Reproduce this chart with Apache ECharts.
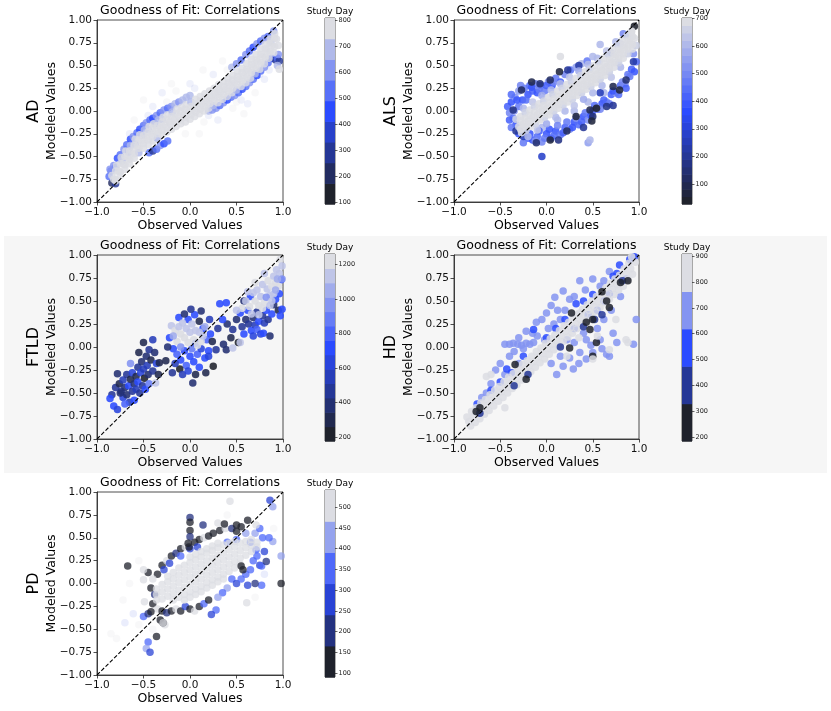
<!DOCTYPE html>
<html><head><meta charset="utf-8">
<script src="https://cdn.jsdelivr.net/npm/echarts@6/dist/echarts.min.js"></script>
<style>
html,body{margin:0;padding:0;background:#fff;}
#wrap{position:relative;width:831px;height:711px;}
#band{position:absolute;left:4px;top:236px;width:823px;height:237px;background:#f6f6f6;}
#c{position:absolute;left:0;top:0;width:831px;height:711px;}
</style></head>
<body><div id="wrap"><div id="band"></div><div id="c"></div></div>
<script>
// ---------------- DATA ----------------
const panelNames = ['AD','ALS','FTLD','HD','PD'];
const titleText = 'Goodness of Fit: Correlations';
const xLabel = 'Observed Values';
const yLabel = 'Modeled Values';
const cbLabel = 'Study Day';
const diagLine = [[-1,-1],[1,1]];

// colorbar limits, number of discrete levels, tick labels
const adRange = [92,809],  adBins = 9,  adTicks = [100,200,300,400,500,600,700,800];
const alsRange = [27,702], alsBins = 25, alsTicks = [100,200,300,400,500,600,700];
const ftldRange = [177,1262], ftldBins = 13, ftldTicks = [200,400,600,800,1000,1200];
const hdRange = [184,909], hdBins = 5, hdTicks = [200,300,400,500,600,700,800,900];
const pdRange = [91,541], pdBins = 6, pdTicks = [100,150,200,250,300,350,400,450,500];

// points: [observed, modeled, study day]
const adFaint = [[0.46,0.03,760],[0.58,-0.03,760],[0.62,0.08,690],[0.14,0.45,760],[0.25,0.40,690],[-0.50,0.12,760],[-0.30,0.20,690],[-0.60,-0.10,760],[0.10,-0.25,760],[0.30,-0.10,690],[-0.20,0.30,760],[0.70,0.20,760],[0.00,0.30,690],[-0.65,-0.25,690],[0.35,0.55,760],[0.80,0.35,690],[0.20,-0.05,690],[-0.05,-0.25,760],[0.55,0.12,690],[-0.40,0.05,690],[-0.15,0.22,760],[0.05,0.25,690],[0.40,0.45,760],[0.65,0.60,690],[-0.70,-0.40,760],[-0.45,-0.05,690],[0.15,-0.12,760],[0.75,0.40,690],[0.50,0.10,760],[-0.25,0.10,760],[0.60,0.55,760],[0.85,0.45,690]];
const adPoints = [
[-0.85,-0.66,540],[-0.82,-0.60,610],[-0.78,-0.52,470],[-0.75,-0.48,540],[-0.71,-0.42,610],[-0.68,-0.37,540],[-0.64,-0.31,450],[-0.61,-0.28,610],[-0.57,-0.24,540],[-0.54,-0.20,470],[-0.50,-0.16,540],[-0.47,-0.13,610],[-0.43,-0.10,540],[-0.40,-0.08,450],[-0.36,-0.05,610],[-0.32,-0.02,540],[-0.28,0.01,610],[-0.24,0.03,540],[-0.20,0.05,610],[-0.16,0.08,690],[-0.12,0.10,610],[-0.08,0.12,690],[-0.04,0.15,690],[0.00,0.17,690],
[-0.80,-0.62,540],[-0.73,-0.55,610],[-0.66,-0.45,540],[-0.59,-0.36,610],[-0.52,-0.27,540],[-0.45,-0.20,610],[-0.38,-0.14,540],[-0.30,-0.09,610],
[-0.44,-0.46,540],[-0.40,-0.44,330],[-0.36,-0.42,540],[-0.32,-0.38,610],[-0.28,-0.36,450],[-0.24,-0.33,540],[-0.84,-0.79,250],[-0.80,-0.80,330],[-0.87,-0.72,540],[-0.86,-0.64,610],
[0.28,0.03,610],[0.32,0.06,540],[0.36,0.09,610],[0.40,0.12,470],[0.44,0.15,540],[0.48,0.17,610],[0.52,0.20,540],[0.56,0.24,470],[0.60,0.27,540],[0.64,0.31,610],[0.68,0.35,540],[0.72,0.39,450],[0.76,0.44,540],[0.80,0.48,610],[0.84,0.53,540],[0.88,0.58,470],[0.20,0.00,690],[0.24,0.01,610],
[0.55,0.56,540],[0.60,0.62,610],[0.64,0.66,540],[0.68,0.70,470],[0.72,0.74,610],[0.76,0.77,540],[0.80,0.80,610],[0.84,0.82,540],[0.87,0.76,690],[0.90,0.88,610],[0.45,0.48,690],[0.50,0.52,610],
[0.92,0.56,300],[0.94,0.58,540],[0.96,0.55,330],[0.95,0.62,610],[0.94,0.50,690],[0.96,0.46,760],
[-0.82,-0.75,790],[-0.77,-0.66,760],[-0.72,-0.58,780],[-0.67,-0.51,750],[-0.62,-0.45,790],[-0.57,-0.39,770],[-0.52,-0.33,800],[-0.47,-0.29,760],[-0.42,-0.25,780],[-0.37,-0.22,750],[-0.32,-0.18,790],[-0.27,-0.15,770],[-0.22,-0.12,800],[-0.17,-0.09,760],[-0.12,-0.06,780],[-0.07,-0.04,750],[-0.02,-0.01,790],[0.03,0.02,770],[0.08,0.05,800],[0.13,0.08,760],[0.18,0.11,780],[0.23,0.14,750],[0.28,0.17,790],[0.33,0.21,770],[0.38,0.24,800],[0.43,0.28,760],[0.48,0.31,780],[0.53,0.35,750],[0.58,0.39,790],[0.63,0.44,770],[0.68,0.49,800],[0.73,0.54,760],[0.78,0.60,780],[0.83,0.66,750],[0.88,0.72,790],[0.93,0.79,770],
[-0.84,-0.71,770],[-0.79,-0.60,740],[-0.74,-0.51,790],[-0.69,-0.44,760],[-0.64,-0.38,700],[-0.59,-0.31,780],[-0.54,-0.26,750],[-0.49,-0.21,690],[-0.44,-0.17,770],[-0.39,-0.14,790],[-0.34,-0.10,700],[-0.29,-0.07,760],[-0.24,-0.04,780],[-0.19,-0.01,690],[-0.14,0.02,770],[-0.09,0.04,750],[-0.04,0.07,790],[0.01,0.10,700],[0.06,0.13,770],[0.11,0.16,780],[0.16,0.19,750],[0.21,0.22,790],[0.26,0.25,770],[0.31,0.29,800],[0.36,0.32,760],[0.41,0.36,780],[0.46,0.39,750],[0.51,0.43,790],[0.56,0.47,770],[0.61,0.52,800],[0.66,0.57,760],[0.71,0.62,780],[0.76,0.68,750],[0.81,0.73,790],[0.86,0.79,770],[0.91,0.85,800],
[-0.80,-0.77,760],[-0.75,-0.71,790],[-0.70,-0.64,770],[-0.65,-0.58,750],[-0.60,-0.52,790],[-0.55,-0.46,700],[-0.50,-0.41,780],[-0.45,-0.37,760],[-0.40,-0.33,790],[-0.35,-0.30,700],[-0.30,-0.26,770],[-0.25,-0.23,780],[-0.20,-0.20,750],[-0.15,-0.17,790],[-0.10,-0.14,770],[-0.05,-0.12,800],[0.00,-0.09,760],[0.05,-0.06,780],[0.10,-0.03,750],[0.15,0.00,790],[0.20,0.03,770],[0.25,0.06,700],[0.30,0.09,760],[0.35,0.13,780],[0.40,0.16,750],[0.45,0.20,790],[0.50,0.23,700],[0.55,0.27,780],[0.60,0.31,760],[0.65,0.36,790],[0.70,0.41,700],[0.75,0.46,770],[0.80,0.52,780],[0.85,0.58,750],[0.90,0.64,790],[0.95,0.72,770],
[-0.80,-0.66,780],[-0.75,-0.58,760],[-0.70,-0.50,780],[-0.65,-0.44,760],[-0.60,-0.38,780],[-0.55,-0.32,760],[-0.50,-0.27,780],[-0.45,-0.23,760],[-0.40,-0.19,780],[-0.35,-0.16,760],[-0.30,-0.12,780],[-0.25,-0.09,760],[-0.20,-0.06,780],[-0.15,-0.03,760],[-0.10,0.00,780],[-0.05,0.02,760],[0.01,0.05,780],[0.06,0.08,760],[0.11,0.11,780],[0.16,0.14,760],[0.21,0.17,780],[0.26,0.20,760],[0.31,0.24,780],[0.36,0.27,760],[0.41,0.31,780],[0.46,0.34,760],[0.51,0.38,780],[0.56,0.42,760],[0.61,0.46,780],[0.66,0.51,760],[0.71,0.56,780],[0.76,0.62,760],[0.81,0.68,780],[0.86,0.74,760],[0.91,0.80,780],
[-0.80,-0.75,760],[-0.75,-0.67,780],[-0.70,-0.59,760],[-0.65,-0.53,780],[-0.60,-0.47,760],[-0.55,-0.41,780],[-0.50,-0.36,760],[-0.45,-0.32,780],[-0.40,-0.28,760],[-0.35,-0.25,780],[-0.30,-0.21,760],[-0.25,-0.18,780],[-0.20,-0.15,760],[-0.15,-0.12,780],[-0.10,-0.10,760],[-0.05,-0.07,780],[0.01,-0.04,760],[0.06,-0.01,780],[0.11,0.02,760],[0.16,0.05,780],[0.21,0.08,760],[0.26,0.11,780],[0.31,0.15,760],[0.36,0.18,780],[0.41,0.22,760],[0.46,0.25,780],[0.51,0.29,760],[0.56,0.33,780],[0.61,0.37,760],[0.66,0.42,780],[0.71,0.47,760],[0.76,0.53,780],[0.81,0.59,760],[0.86,0.65,780],[0.91,0.71,760]
];

const alsPoints = [
[-0.42,0.05,420],[-0.40,-0.02,500],[-0.38,0.10,380],[-0.36,-0.08,450],[-0.34,0.15,520],[-0.33,-0.15,400],[-0.30,0.05,470],[-0.30,0.22,560],[-0.28,-0.22,430],[-0.26,0.12,400],[-0.24,0.25,480],[-0.22,-0.25,520],[-0.20,0.18,390],[-0.18,0.28,450],[-0.15,0.22,420],[-0.12,0.30,500],[-0.10,0.20,380],[-0.06,0.28,430],[-0.02,0.22,470],[0.02,0.32,520],[0.06,0.28,400],[0.10,0.36,460],[0.15,0.32,420],[0.20,0.40,500],[0.26,0.45,450],[0.32,0.48,560],[0.38,0.52,600],[0.44,0.55,480],[0.50,0.60,620],
[-0.38,0.18,450],[-0.32,0.12,400],[-0.28,0.28,500],[-0.22,0.12,450],[-0.16,0.26,400],[-0.08,0.24,470],[0.00,0.28,430],[0.08,0.32,500],[-0.40,-0.10,430],[-0.38,-0.18,470],[-0.30,-0.25,400],[-0.35,0.00,520],
[-0.20,-0.30,420],[-0.15,-0.32,380],[-0.10,-0.28,450],[-0.05,-0.34,500],[0.00,-0.25,400],[0.05,-0.30,430],[0.10,-0.22,390],[0.15,-0.26,470],[0.20,-0.18,420],[0.25,-0.20,500],[0.30,-0.12,400],[0.35,-0.15,450],[0.40,-0.06,380],[0.45,-0.10,520],[0.50,0.00,430],[0.55,0.02,470],[0.60,0.08,400],[0.65,0.10,500],[0.70,0.18,430],[0.75,0.20,560],[0.80,0.28,450],[0.85,0.30,520],[0.88,0.40,480],[0.92,0.46,420],[0.95,0.43,380],[0.97,0.54,450],[0.94,0.63,520],[0.62,0.20,600],[0.45,0.10,620],[0.30,0.00,600],[0.12,-0.10,620],[-0.05,-0.18,600],
[-0.25,-0.35,470],[-0.18,-0.25,400],[-0.12,-0.33,520],[-0.08,-0.22,430],[-0.02,-0.30,470],[0.03,-0.20,380],[0.08,-0.27,450],[0.12,-0.16,500],[0.18,-0.24,430],[0.22,-0.12,470],[0.28,-0.18,400],[0.32,-0.08,520],[0.38,-0.12,430],[0.42,-0.02,470],[0.48,-0.05,400],[0.52,0.06,450],[0.58,0.02,500],[0.62,0.12,430],[0.68,0.08,470],[0.72,0.22,400],[0.78,0.18,450],[0.82,0.32,500],[0.86,0.25,430],[0.90,0.38,470],
[-0.27,0.23,120],[-0.36,0.01,180],[-0.16,0.32,90],[-0.07,0.30,150],[0.14,0.43,60],[0.23,0.45,200],[0.04,0.34,110],[-0.11,-0.35,140],[0.04,-0.32,80],[0.13,-0.32,170],[0.22,-0.22,120],[0.32,-0.06,60],[0.47,0.01,90],[0.54,0.03,50],[0.50,-0.06,140],[0.49,-0.11,70],[0.72,0.06,200],[0.72,0.27,100],[0.79,0.23,60],[0.86,0.34,150],[0.94,0.54,240],[0.95,0.93,40],[-0.33,-0.22,200],[-0.25,-0.28,250],[0.35,0.50,230],[0.58,0.20,260],[0.65,0.05,180],[0.40,-0.18,210],
[-0.05,-0.50,280],[0.45,-0.35,560],[0.47,-0.32,600],[0.58,0.73,600],[0.83,0.85,500],[0.90,0.82,650],[0.92,0.88,690],[0.15,0.60,690],[0.70,0.64,620],[0.80,0.74,640],
[-0.25,0.03,600],[-0.15,0.10,630],[-0.05,0.17,580],[0.05,0.23,620],[0.15,0.30,600],[0.25,0.37,640],[0.35,0.44,590],[0.45,0.51,620],[0.55,0.58,600],[0.65,0.66,630],[0.75,0.76,600],
[-0.20,-0.28,600],[-0.10,-0.21,630],[0.00,-0.14,580],[0.10,-0.07,620],[0.20,0.00,600],[0.30,0.06,640],[0.40,0.13,590],[0.50,0.20,620],[0.60,0.28,600],[0.70,0.37,630],[0.80,0.48,600],
[-0.30,-0.17,690],[-0.25,-0.14,680],[-0.20,-0.11,700],[-0.15,-0.07,690],[-0.10,-0.04,680],[-0.05,0.00,700],[0.00,0.03,690],[0.05,0.06,680],[0.10,0.10,700],[0.15,0.13,690],[0.20,0.17,680],[0.25,0.20,700],[0.30,0.23,690],[0.35,0.27,680],[0.40,0.30,700],[0.45,0.34,690],[0.50,0.37,680],[0.55,0.41,700],[0.60,0.45,690],[0.65,0.49,680],[0.70,0.54,700],[0.75,0.60,690],[0.80,0.65,680],[0.85,0.70,700],[0.90,0.75,690],[0.95,0.80,680],
[-0.33,-0.09,670],[-0.28,-0.06,690],[-0.23,-0.02,660],[-0.18,0.01,690],[-0.13,0.05,670],[-0.08,0.08,700],[-0.03,0.11,660],[0.02,0.15,690],[0.07,0.18,670],[0.12,0.22,700],[0.17,0.25,660],[0.22,0.29,690],[0.27,0.32,670],[0.32,0.36,700],[0.37,0.39,660],[0.42,0.43,690],[0.47,0.46,670],[0.52,0.50,700],[0.57,0.54,660],[0.62,0.58,690],[0.67,0.62,670],[0.72,0.68,700],[0.77,0.73,660],[0.82,0.78,690],[0.87,0.83,670],[0.92,0.87,700],
[-0.27,-0.24,680],[-0.22,-0.21,660],[-0.17,-0.17,690],[-0.12,-0.14,670],[-0.07,-0.10,700],[-0.02,-0.07,660],[0.03,-0.04,690],[0.08,0.00,670],[0.13,0.03,700],[0.18,0.07,660],[0.23,0.10,690],[0.28,0.13,670],[0.33,0.17,700],[0.38,0.20,660],[0.43,0.24,690],[0.48,0.27,670],[0.53,0.31,700],[0.58,0.35,660],[0.63,0.39,690],[0.68,0.43,670],[0.73,0.48,700],[0.78,0.53,660],[0.83,0.58,690],[0.88,0.63,670],[0.93,0.68,700],[0.97,0.72,660],
[-0.28,-0.11,690],[-0.23,-0.08,700],[-0.18,-0.05,690],[-0.13,-0.01,700],[-0.08,0.03,690],[-0.03,0.06,700],[0.03,0.09,690],[0.08,0.13,700],[0.13,0.16,690],[0.18,0.20,700],[0.23,0.23,690],[0.28,0.26,700],[0.33,0.30,690],[0.38,0.33,700],[0.43,0.37,690],[0.48,0.40,700],[0.53,0.44,690],[0.58,0.48,700],[0.63,0.52,690],[0.68,0.56,700],[0.73,0.62,690],[0.78,0.67,700],[0.83,0.72,690],[0.88,0.77,700],[0.93,0.82,690],
[-0.28,-0.20,700],[-0.23,-0.17,690],[-0.18,-0.14,700],[-0.13,-0.10,690],[-0.08,-0.07,700],[-0.03,-0.03,690],[0.03,0.00,700],[0.08,0.04,690],[0.13,0.07,700],[0.18,0.11,690],[0.23,0.14,700],[0.28,0.17,690],[0.33,0.21,700],[0.38,0.24,690],[0.43,0.28,700],[0.48,0.31,690],[0.53,0.35,700],[0.58,0.39,690],[0.63,0.43,700],[0.68,0.47,690],[0.73,0.53,700],[0.78,0.58,690],[0.83,0.63,700],[0.88,0.68,690],[0.93,0.73,700]
];

const ftldPoints = [
[-0.82,-0.64,720],[-0.78,-0.68,650],[-0.80,-0.44,430],[-0.78,-0.29,380],[-0.76,-0.40,300],[-0.74,-0.48,470],[-0.72,-0.36,540],[-0.72,-0.55,600],[-0.70,-0.44,350],[-0.68,-0.30,450],[-0.68,-0.52,400],[-0.66,-0.42,720],[-0.65,-0.60,560],[-0.64,-0.35,290],[-0.62,-0.48,500],[-0.62,-0.28,640],[-0.60,-0.40,420],[-0.60,-0.58,700],[-0.58,-0.32,330],[-0.58,-0.46,550],[-0.56,-0.22,480],[-0.56,-0.38,760],[-0.55,-0.06,300],[-0.54,-0.50,440],[-0.53,-0.28,600],[-0.52,-0.16,360],[-0.51,-0.42,480],[-0.50,0.05,320],[-0.50,-0.24,520],[-0.49,-0.34,260],[-0.48,-0.46,700],[-0.47,-0.10,420],[-0.46,-0.20,580],[-0.45,-0.30,380],[-0.44,-0.03,500],[-0.44,-0.40,900],[-0.42,-0.14,300],[-0.40,0.08,560],[-0.40,-0.26,460],[-0.38,-0.06,380],[-0.37,-0.39,1100],[-0.36,-0.18,640],[-0.34,-0.30,300],[-0.75,-0.50,360],[-0.70,-0.62,820],[-0.64,-0.18,1000],[-0.84,-0.52,480],[-0.86,-0.56,740],
[-0.22,0.10,760],[-0.18,-0.02,700],[-0.14,-0.08,820],[-0.10,-0.14,720],[-0.06,-0.04,680],[-0.04,-0.20,780],[0.00,-0.10,700],[0.02,-0.02,860],[0.04,-0.16,740],[0.06,0.04,690],[0.08,-0.08,800],[0.10,-0.22,720],[0.12,-0.02,660],[0.14,0.20,760],[0.16,-0.12,700],[0.18,0.08,820],[0.20,-0.04,740],[0.22,0.14,700],[-0.02,0.30,720],[0.05,0.35,760],[-0.12,0.32,700],
[-0.20,0.23,1150],[-0.16,0.18,1220],[-0.12,0.22,1100],[-0.10,0.14,1180],[-0.08,0.26,1130],[-0.06,0.10,1230],[-0.04,0.20,1120],[-0.02,0.05,1200],[0.00,0.16,1150],[0.02,0.25,1100],[0.04,0.08,1210],[0.06,0.18,1140],[0.08,0.02,1180],[0.10,0.16,1120],[0.12,0.06,1230],[0.14,0.12,1100],[-0.14,0.06,1190],[-0.18,0.12,1060],[0.16,0.22,1050],[-0.10,0.00,1000],
[0.01,0.41,450],[0.12,0.39,420],[0.21,0.30,550],[-0.33,-0.17,300],[-0.26,-0.15,330],[-0.19,-0.28,480],[-0.11,-0.24,260],[0.03,-0.39,420],[0.17,-0.28,300],[0.25,-0.21,250],[0.28,-0.03,500],[0.39,-0.03,420],[0.36,0.03,350],[-0.08,-0.30,520],[-0.02,-0.26,600],[0.06,-0.30,280],[-0.24,0.00,380],[-0.16,-0.18,520],[0.24,0.06,330],[0.30,0.20,460],[0.20,-0.10,600],[-0.06,0.36,380],[0.10,0.28,300],
[0.32,0.47,720],[0.39,0.48,700],[0.46,0.19,500],[0.50,0.30,420],[0.54,0.37,760],[0.56,0.22,480],[0.58,0.14,700],[0.60,0.30,360],[0.62,0.40,680],[0.63,0.25,450],[0.66,0.18,720],[0.68,0.12,640],[0.68,0.32,400],[0.70,0.24,520],[0.72,0.19,780],[0.72,0.38,470],[0.74,0.28,700],[0.76,0.14,600],[0.78,0.34,440],[0.79,0.15,720],[0.80,0.26,560],[0.82,0.40,700],[0.84,0.30,480],[0.86,0.12,380],[0.88,0.36,760],[0.90,0.46,420],[0.92,0.52,700],[0.95,0.40,300],[0.97,0.34,760],[0.99,0.41,680],[0.96,0.58,740],[0.98,0.73,700],[0.40,0.25,380],[0.44,0.10,300],[0.52,0.05,250],[0.35,0.30,700],[0.58,0.50,360],[0.65,0.55,720],
[0.54,0.05,1100],[0.46,-0.01,1150],[0.60,0.50,1150],[0.64,0.44,1200],[0.68,0.59,1100],[0.70,0.50,1180],[0.72,0.62,1130],[0.74,0.45,1220],[0.76,0.55,1100],[0.78,0.68,1150],[0.80,0.48,1210],[0.83,0.63,1100],[0.84,0.72,1180],[0.86,0.56,1130],[0.88,0.66,1220],[0.90,0.77,1100],[0.90,0.58,1160],[0.92,0.70,1200],[0.93,0.84,1120],[0.95,0.66,1180],[0.96,0.80,1100],[0.97,0.95,1230],[0.99,0.88,1150],[0.99,0.74,1000],[0.94,0.74,1050],[0.82,0.54,1000],[0.66,0.36,1100],[0.74,0.35,1150],[0.78,0.42,1200],[0.86,0.45,1100],[0.88,0.50,1150],[0.92,0.62,1080],[0.62,0.60,1130],[0.70,0.70,1200],[0.80,0.80,1120],[0.56,0.42,1180],[0.50,0.40,1100]
];

const hdPoints = [
[-0.45,0.03,700],[-0.40,0.03,690],[-0.36,0.04,720],[-0.31,0.03,700],[-0.27,0.02,680],[-0.22,0.04,710],[-0.18,0.03,700],[-0.14,0.05,690],
[0.09,0.54,700],[0.18,0.61,690],[0.36,0.72,720],[0.50,0.74,700],[0.68,0.82,680],[0.00,0.37,710],[-0.11,0.27,700],[-0.22,0.17,690],[-0.05,0.30,720],[0.05,0.45,700],[0.12,0.40,680],[-0.30,0.10,710],[-0.15,0.15,700],[0.25,0.52,690],[0.30,0.55,720],[0.42,0.62,700],[0.58,0.66,680],[0.62,0.72,710],[-0.55,-0.25,700],[-0.50,-0.18,690],[-0.40,-0.10,720],[-0.35,-0.05,700],[-0.25,-0.02,680],[-0.10,0.12,710],[0.02,0.20,700],[0.15,0.30,690],[-0.60,-0.40,720],[-0.70,-0.55,700],[-0.65,-0.50,680],[-0.45,-0.30,710],[-0.30,-0.18,700],[0.20,0.40,690],[-0.02,0.08,720],[0.08,0.25,700],
[0.22,0.08,700],[0.36,-0.06,690],[0.43,-0.13,720],[0.50,-0.06,700],[0.65,-0.08,680],[0.68,-0.10,710],[0.76,0.05,700],[0.18,-0.21,690],[0.29,-0.24,720],[0.11,-0.30,700],[0.43,0.08,680],[0.58,0.08,710],[0.97,0.30,690],[0.94,0.03,700],[0.30,0.05,720],[0.40,0.15,700],[0.55,0.20,680],[0.62,0.30,710],[0.70,0.40,700],[0.80,0.55,690],[0.48,0.02,720],[0.25,-0.12,700],[0.35,-0.18,680],[0.60,-0.02,710],[0.72,0.15,700],[0.15,-0.10,690],[0.05,-0.18,720],
[0.40,0.50,560],[0.32,0.47,540],[0.50,0.57,580],[-0.43,-0.24,560],[-0.38,-0.28,540],[-0.14,0.19,580],[0.72,0.77,560],[0.86,0.74,540],[0.79,0.89,580],[-0.60,-0.47,560],[-0.50,-0.38,540],[0.20,0.30,580],[0.30,0.20,560],[0.45,0.35,540],[0.55,0.40,580],[0.62,0.50,560],[0.68,0.58,540],[-0.25,-0.10,580],[0.00,0.10,560],[0.10,0.20,540],[0.90,0.95,580],[0.95,0.98,560],[0.76,0.80,540],[-0.75,-0.62,580],
[-0.84,-0.81,850],[-0.79,-0.76,820],[-0.74,-0.72,880],[-0.69,-0.67,850],[-0.64,-0.63,820],[-0.59,-0.58,880],[-0.54,-0.53,850],[-0.49,-0.49,820],[-0.44,-0.44,880],[-0.39,-0.39,850],[-0.34,-0.35,820],[-0.29,-0.30,880],[-0.24,-0.25,850],[-0.19,-0.21,820],[-0.14,-0.16,880],[-0.09,-0.11,850],[-0.04,-0.07,820],[0.01,-0.02,880],[0.06,0.03,850],[0.11,0.07,820],[0.16,0.12,880],[0.21,0.17,850],[0.26,0.21,820],[0.31,0.26,880],[0.36,0.30,850],[0.41,0.35,820],[0.46,0.40,880],[0.51,0.44,850],[0.56,0.49,820],[0.61,0.54,880],[0.66,0.58,850],[0.71,0.63,820],[0.76,0.68,880],[0.81,0.72,850],[0.86,0.79,820],[0.91,0.85,880],[0.96,0.92,850],
[-0.86,-0.76,830],[-0.81,-0.70,860],[-0.76,-0.66,800],[-0.71,-0.61,830],[-0.66,-0.57,860],[-0.61,-0.52,800],[-0.56,-0.47,830],[-0.51,-0.43,860],[-0.46,-0.38,800],[-0.41,-0.33,830],[-0.36,-0.29,860],[-0.31,-0.24,800],[-0.26,-0.19,830],[-0.21,-0.15,860],[-0.16,-0.10,800],[-0.11,-0.05,830],[-0.06,-0.01,860],[-0.01,0.04,800],[0.04,0.09,830],[0.09,0.13,860],[0.14,0.18,800],[0.19,0.23,830],[0.24,0.27,860],[0.29,0.32,800],[0.34,0.36,830],[0.39,0.41,860],[0.44,0.46,800],[0.49,0.50,830],[0.54,0.55,860],[0.59,0.60,800],[0.64,0.64,830],[0.69,0.69,860],[0.74,0.74,800],[0.79,0.78,830],[0.84,0.85,860],[0.89,0.91,800],
[-0.82,-0.86,870],[-0.77,-0.82,840],[-0.72,-0.78,890],[-0.67,-0.73,870],[-0.62,-0.69,840],[-0.57,-0.64,890],[-0.52,-0.59,870],[-0.47,-0.55,840],[-0.42,-0.50,890],[-0.37,-0.45,870],[-0.32,-0.41,840],[-0.27,-0.36,890],[-0.22,-0.31,870],[-0.17,-0.27,840],[-0.12,-0.22,890],[-0.07,-0.17,870],[-0.02,-0.13,840],[0.03,-0.08,890],[0.08,-0.03,870],[0.13,0.01,840],[0.18,0.06,890],[0.23,0.11,870],[0.28,0.15,840],[0.33,0.20,890],[0.38,0.24,870],[0.43,0.29,840],[0.48,0.34,890],[0.53,0.38,870],[0.58,0.43,840],[0.63,0.48,890],[0.68,0.52,870],[0.73,0.57,840],[0.78,0.62,890],[0.83,0.66,870],[0.88,0.73,840],[0.93,0.79,890],
[0.40,0.22,400],[0.52,0.30,420],[-0.35,-0.42,380],[0.15,0.00,400],[-0.20,-0.30,420],[0.60,0.35,380],[-0.72,-0.72,400],[0.82,0.72,420],
[0.27,0.37,250],[0.43,0.27,230],[0.65,0.50,260],[0.68,0.43,240],[0.88,0.72,250],[0.54,0.05,230],[0.50,-0.10,260],[-0.34,-0.19,240],[-0.22,-0.35,250],[-0.72,-0.66,230],[-0.76,-0.70,260],[0.50,0.30,240],[0.25,-0.01,250],[0.47,0.19,230],[0.60,0.60,260],[0.80,0.70,240],
[-0.65,-0.32,850],[-0.45,-0.66,820],[0.86,0.08,880],[0.88,0.05,850],[0.68,-0.03,820],[0.36,0.37,880],[0.22,-0.10,850],[0.50,-0.13,820],[0.35,0.10,880],[0.55,0.12,850],[0.75,0.30,820],[0.92,0.98,880],[-0.60,-0.30,850]
];

const pdFaint = [[-0.79,-0.60,520],[-0.70,-0.43,450],[-0.72,-0.18,500],[-0.61,-0.33,430],[-0.85,-0.55,500],[-0.55,-0.45,520],[-0.65,0.00,500],[-0.55,0.25,500],[0.70,-0.15,500],[0.40,0.75,500],[0.80,0.10,450],[-0.40,-0.50,500],[0.90,0.60,480]];
const pdPoints = [
[-0.30,0.20,120],[-0.25,0.25,500],[-0.20,0.30,140],[-0.15,0.33,180],[-0.10,0.38,110],[-0.05,0.40,520],[0.05,0.45,150],[0.10,0.48,130],[0.15,0.50,500],[0.20,0.52,160],[0.25,0.55,120],[0.32,0.58,140],[0.38,0.60,500],[0.45,0.60,170],[0.55,0.62,130],[-0.35,0.10,150],[-0.40,0.05,500],[-0.42,-0.05,130],[-0.38,-0.12,200],[-0.45,0.12,110],[-0.28,0.15,300],[-0.22,0.22,260],[0.00,0.38,300],[-0.10,0.30,350],[0.08,0.40,280],
[-0.40,-0.22,140],[-0.35,-0.28,500],[-0.30,-0.30,120],[-0.25,-0.32,180],[-0.20,-0.30,110],[-0.15,-0.28,500],[-0.10,-0.30,140],[-0.05,-0.25,300],[0.00,-0.28,130],[0.05,-0.30,500],[0.10,-0.25,160],[0.15,-0.22,380],[0.20,-0.18,130],[-0.32,-0.40,150],[-0.27,-0.45,500],[-0.29,-0.43,130],
[0.45,0.05,350],[0.50,0.00,300],[0.55,0.05,380],[0.60,0.10,330],[0.62,-0.02,280],[0.65,0.15,350],[0.68,0.25,320],[0.72,0.30,360],[0.75,0.20,300],[0.77,-0.02,330],[0.77,0.19,350],[0.71,0.37,330],[0.80,0.35,300],[0.82,0.24,200],[0.89,0.46,420],[0.85,0.50,380],[0.60,0.55,400],[0.65,0.45,360],[0.70,0.55,420],[0.75,0.60,380],[0.78,0.50,330],[0.50,0.48,350],[0.40,0.45,330],[0.28,-0.29,330],[0.23,-0.34,300],[0.61,-0.21,500],[0.40,-0.05,420],[0.35,-0.10,380],[0.30,-0.15,400],
[-0.36,-0.12,510],[-0.36,-0.06,520],[-0.36,-0.18,500],[-0.30,-0.09,520],[-0.30,-0.01,510],[-0.30,-0.17,530],[-0.24,-0.06,500],[-0.24,0.02,520],[-0.24,-0.14,510],[-0.24,0.08,530],[-0.18,-0.03,520],[-0.18,0.05,500],[-0.18,-0.11,530],[-0.18,0.12,510],[-0.18,-0.18,520],[-0.12,0.01,530],[-0.12,0.09,510],[-0.12,-0.07,520],[-0.12,0.17,500],[-0.12,-0.15,530],[-0.06,0.04,510],[-0.06,0.12,520],[-0.06,-0.04,530],[-0.06,0.20,500],[-0.06,-0.12,520],[-0.06,-0.18,510],
[0.00,0.07,520],[0.00,0.15,530],[0.00,-0.01,510],[0.00,0.23,520],[0.00,-0.09,500],[0.00,0.29,530],[0.00,-0.15,510],[0.06,0.10,520],[0.06,0.18,510],[0.06,0.02,530],[0.06,0.26,520],[0.06,-0.06,500],[0.06,0.32,510],[0.06,-0.12,530],[0.12,0.13,520],[0.12,0.21,500],[0.12,0.05,530],[0.12,0.29,510],[0.12,-0.03,520],[0.12,0.35,530],[0.12,-0.09,510],
[0.18,0.17,500],[0.18,0.25,520],[0.18,0.09,530],[0.18,0.33,510],[0.18,0.01,520],[0.18,0.38,500],[0.18,-0.05,530],[0.24,0.20,510],[0.24,0.28,520],[0.24,0.12,530],[0.24,0.36,500],[0.24,0.04,520],[0.24,0.41,510],[0.24,-0.02,530],[0.30,0.23,520],[0.30,0.31,510],[0.30,0.15,530],[0.30,0.39,520],[0.30,0.07,500],[0.30,0.44,510],[0.30,0.02,530],
[0.36,0.26,520],[0.36,0.34,510],[0.36,0.18,530],[0.36,0.42,500],[0.36,0.10,520],[0.36,0.05,510],[0.42,0.29,530],[0.42,0.37,520],[0.42,0.21,510],[0.42,0.44,500],[0.42,0.13,530],[0.48,0.32,520],[0.48,0.40,510],[0.48,0.24,530],[0.48,0.46,520],[0.48,0.17,500],[0.54,0.36,510],[0.54,0.44,530],[0.54,0.28,520],[0.54,0.21,510],[0.60,0.39,520],[0.60,0.46,500],[0.60,0.31,530],[0.66,0.42,510],[0.66,0.48,520],[0.66,0.35,530],[0.72,0.45,510],[0.72,0.40,520],
[0.00,0.72,200],[0.00,0.67,120],[0.00,0.58,130],[0.00,0.51,190],[-0.02,0.44,110],[-0.01,0.40,120],[0.14,0.64,210],[0.30,0.66,500],[0.37,0.65,110],[0.50,0.64,120],[0.50,0.57,130],[0.62,0.69,110],[0.71,0.64,500],[0.43,0.90,500],[0.86,0.91,300],[0.89,0.84,420],[0.98,0.30,430],[0.98,0.00,110],[-0.67,0.19,150],[-0.50,0.15,500],[-0.50,0.04,500],[-0.49,-0.20,500],[-0.50,-0.36,330],[-0.45,-0.33,200],[-0.42,-0.31,120],[-0.29,-0.43,500],[-0.36,-0.58,140],[-0.45,-0.64,320],[-0.47,-0.71,420],[-0.43,-0.75,300],[0.55,0.19,120],[0.57,0.15,140],[0.70,0.00,190]
];

// ---------------- LAYOUT / STYLE ----------------
const layout = [
  {grid:[97,20,186,182],  cb:[325,18,10,186]},
  {grid:[454,20,185,182], cb:[682,18,10,186]},
  {grid:[97,255,186,184], cb:[325,254,10,187]},
  {grid:[454,255,185,184],cb:[682,254,10,187]},
  {grid:[97,492,186,183], cb:[325,490,10,187]}
];
const panelCfg = [
  {pts:adPoints, faint:adFaint, range:adRange, bins:adBins, ticks:adTicks, op:0.82},
  {pts:alsPoints, faint:null, range:alsRange, bins:alsBins, ticks:alsTicks, op:0.88},
  {pts:ftldPoints, faint:null, range:ftldRange, bins:ftldBins, ticks:ftldTicks, op:0.88},
  {pts:hdPoints, faint:null, range:hdRange, bins:hdBins, ticks:hdTicks, op:0.85},
  {pts:pdPoints, faint:pdFaint, range:pdRange, bins:pdBins, ticks:pdTicks, op:0.75}
];
const SYM = 7.5;
const FONT = '"DejaVu Sans", "Liberation Sans", sans-serif';
const STOPS = ['#1f222c','#2b4bff','#dcdde3'].map(h=>[1,3,5].map(k=>parseInt(h.substr(k,2),16)));
function cmap(t){
  const s = t<=0.5?0:1, f = t<=0.5? t*2 : (t-0.5)*2;
  const a = STOPS[s], b = STOPS[s+1];
  return 'rgb('+a.map((v,i)=>Math.round(v+(b[i]-v)*f)).join(',')+')';
}
function edges(r,n){const e=[];for(let j=0;j<=n;j++)e.push(r[0]+(r[1]-r[0])*j/n);return e;}
const minus = s => s.replace('-', '\u2212');
const fmt1 = v => minus((Math.abs(v)<1e-9?0:v).toFixed(1));
const fmt2 = v => minus((Math.abs(v)<1e-9?0:v).toFixed(2));

const grids=[], xAxes=[], yAxes=[], series=[], visualMaps=[], texts=[];
const tick = {show:true,length:3.5,lineStyle:{color:'#222',width:0.8}};
const spine = {show:true,onZero:false,lineStyle:{color:'#222',width:0.8}};
panelCfg.forEach((p,i)=>{
  const L = layout[i], g = L.grid, c = L.cb;
  grids.push({left:g[0],top:g[1],width:g[2],height:g[3],show:true,borderColor:'#222',borderWidth:0.8});
  grids.push({left:c[0],top:c[1],width:c[2],height:c[3],show:true,borderColor:'#333',borderWidth:0.8});
  xAxes.push({gridIndex:2*i,type:'value',min:-1,max:1,interval:0.5,position:'bottom',axisLine:spine,axisTick:tick,splitLine:{show:false},
    axisLabel:{fontSize:10.5,color:'#111',margin:5,fontFamily:FONT,formatter:fmt1,showMinLabel:true,showMaxLabel:true}});
  xAxes.push({gridIndex:2*i+1,type:'value',min:0,max:1,show:false});
  yAxes.push({gridIndex:2*i,type:'value',min:-1,max:1,interval:0.25,position:'left',axisLine:spine,axisTick:tick,splitLine:{show:false},
    axisLabel:{fontSize:10.5,color:'#111',margin:5,fontFamily:FONT,formatter:fmt2,showMinLabel:true,showMaxLabel:true}});
  yAxes.push({gridIndex:2*i+1,type:'value',min:p.range[0],max:p.range[1],position:'right',axisLine:{show:false,onZero:false},splitLine:{show:false},
    axisTick:{show:true,length:2.5,customValues:p.ticks,lineStyle:{color:'#222',width:0.7}},
    axisLabel:{customValues:p.ticks,fontSize:6.5,color:'#222',margin:3.5,fontFamily:FONT,formatter:v=>String(v)}});
  const e = edges(p.range,p.bins);
  const pieces = [];
  const cbData = [];
  for(let j=0;j<p.bins;j++){
    const col = cmap(j/(p.bins-1));
    const pc = {gte:e[j],color:col};
    if(j<p.bins-1) pc.lt=e[j+1]; else pc.lte=e[j+1];
    pieces.push(pc);
    cbData.push([0,e[j],e[j+1],j/(p.bins-1)]);
  }
  const sIdx = [];
  if(p.faint){
    sIdx.push(series.length);
    series.push({type:'scatter',xAxisIndex:2*i,yAxisIndex:2*i,data:p.faint,symbolSize:SYM,itemStyle:{opacity:0.2},silent:true,z:2});
  }
  sIdx.push(series.length);
  series.push({type:'scatter',xAxisIndex:2*i,yAxisIndex:2*i,data:p.pts,symbolSize:SYM,itemStyle:{opacity:p.op},silent:true,z:3});
  series.push({type:'line',xAxisIndex:2*i,yAxisIndex:2*i,data:diagLine,symbol:'none',silent:true,z:5,
    lineStyle:{color:'#000',width:1.1,type:[4,2]}});
  series.push({type:'custom',xAxisIndex:2*i+1,yAxisIndex:2*i+1,data:cbData,silent:true,z:2,
    renderItem:(params,api)=>{
      const p0 = api.coord([0,api.value(1)]), p1 = api.coord([1,api.value(2)]);
      return {type:'rect',shape:{x:p0[0],y:p1[1],width:p1[0]-p0[0],height:p0[1]-p1[1]+0.6},style:{fill:cmap(api.value(3))}};
    }});
  visualMaps.push({type:'piecewise',show:false,seriesIndex:sIdx,dimension:2,pieces:pieces});
  const T = (text,x,y,size,rot)=>({type:'text',x:x,y:y,rotation:rot||0,z:100,silent:true,
    style:{text:text,font:size+'px '+FONT,fill:'#000',align:'center',verticalAlign:'middle'}});
  const cx = g[0]+g[2]/2, cy = g[1]+g[3]/2;
  texts.push(T(titleText,cx,g[1]-9.5,12.5));
  texts.push(T(cbLabel,c[0]+c[2]/2,c[1]-6.5,9));
  texts.push(T(panelNames[i],g[0]-63,cy,16,Math.PI/2));
  texts.push(T(yLabel,g[0]-45,cy,12.5,Math.PI/2));
  texts.push(T(xLabel,cx,g[1]+g[3]+23.5,12.5));
});

const chart = echarts.init(document.getElementById('c'));
chart.setOption({
  animation:false,
  backgroundColor:'transparent',
  textStyle:{fontFamily:FONT},
  grid:grids, xAxis:xAxes, yAxis:yAxes, series:series, visualMap:visualMaps,
  graphic:{elements:texts}
});
</script></body></html>
